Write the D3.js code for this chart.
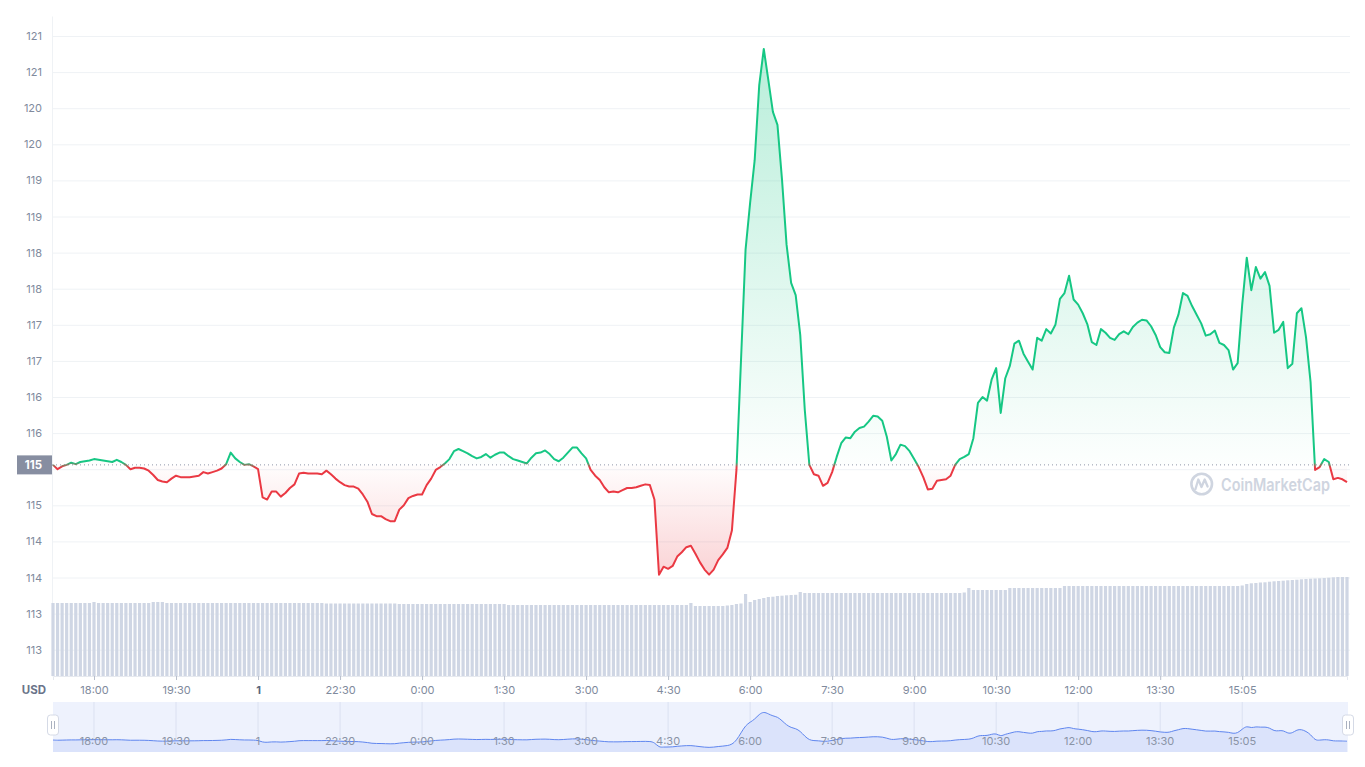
<!DOCTYPE html>
<html>
<head>
<meta charset="utf-8">
<script src="https://cdn.jsdelivr.net/npm/d3@7"></script>
<style>
  body { margin: 0; background: #fff; font-family: Inter, "Noto Sans", sans-serif; }
  svg { display: block; }
</style>
</head>
<body>
<div id="visContainer"></div>
<script>
// price every 5 minutes, starting 17:15
const startTime = new Date(2023, 0, 31, 17, 15);
const stepMinutes = 5;

const prices = [
  115.56,115.50,115.54,115.56,115.59,115.57,115.60,115.61,115.62,115.64,
  115.63,115.62,115.61,115.60,115.63,115.60,115.56,115.50,115.52,115.52,
  115.51,115.48,115.42,115.35,115.33,115.32,115.37,115.41,115.39,115.39,
  115.39,115.40,115.41,115.46,115.44,115.46,115.48,115.51,115.57,115.73,
  115.65,115.60,115.56,115.57,115.54,115.50,115.11,115.08,115.19,115.19,
  115.12,115.17,115.24,115.29,115.44,115.45,115.44,115.44,115.44,115.43,
  115.48,115.43,115.37,115.32,115.28,115.26,115.26,115.23,115.15,115.05,
  114.88,114.85,114.85,114.81,114.78,114.78,114.94,115.00,115.10,115.13,
  115.15,115.15,115.28,115.37,115.49,115.53,115.58,115.64,115.75,115.78,
  115.75,115.72,115.68,115.65,115.67,115.71,115.66,115.70,115.73,115.73,
  115.68,115.64,115.62,115.60,115.58,115.66,115.72,115.73,115.76,115.71,
  115.64,115.61,115.66,115.73,115.80,115.80,115.72,115.65,115.49,115.41,
  115.35,115.25,115.18,115.19,115.18,115.21,115.24,115.24,115.25,115.27,
  115.29,115.28,115.08,114.04,114.15,114.12,114.16,114.29,114.35,114.42,
  114.44,114.33,114.21,114.11,114.04,114.11,114.24,114.32,114.41,114.65,
  115.49,117.01,118.54,119.19,119.78,120.82,121.32,120.89,120.45,120.27,
  119.51,118.61,118.08,117.91,117.36,116.32,115.56,115.43,115.41,115.27,
  115.31,115.46,115.67,115.86,115.94,115.93,116.02,116.07,116.09,116.16,
  116.24,116.23,116.17,115.95,115.62,115.71,115.84,115.82,115.75,115.64,
  115.53,115.39,115.22,115.23,115.34,115.35,115.36,115.41,115.56,115.64,
  115.67,115.71,115.93,116.42,116.50,116.45,116.74,116.90,116.28,116.76,
  116.93,117.24,117.28,117.10,116.99,116.88,117.32,117.28,117.44,117.38,
  117.50,117.86,117.94,118.18,117.85,117.78,117.66,117.51,117.26,117.22,
  117.44,117.39,117.32,117.29,117.37,117.41,117.37,117.47,117.53,117.57,
  117.56,117.48,117.36,117.19,117.12,117.11,117.46,117.64,117.94,117.90,
  117.76,117.64,117.52,117.35,117.37,117.42,117.25,117.22,117.15,116.88,
  116.97,117.78,118.43,117.98,118.30,118.14,118.23,118.04,117.39,117.43,
  117.54,116.90,116.96,117.66,117.73,117.33,116.71,115.49,115.53,115.64,
  115.60,115.36,115.38,115.36,115.32
];

// volume bars (millions)
const volumes = [
  73,73,73,73,73,73,73,73,73,74,
  73,73,73,73,73,73,73,73,73,73,
  73,73,74,74,74,73,73,73,73,73,
  73,73,73,73,73,73,73,73,73,73,
  73,73,73,73,73,73,73,73,73,73,
  73,73,73,73,73,73,73,73,73,73,
  72.5,72.5,72.5,72.5,72.5,72.5,72.5,72.5,72.5,72.5,
  72.5,72.5,72.5,72.5,72.5,72.5,72,72,72,72,
  72,72,72,72,72,72,72,72,72,72,
  72,72,72,72,72,72,72,72,72,72,
  71,71,71,71,71,71,71,71,71,71,
  71,71,71,71,71,71,71,71,71,71,
  71,71,71,71,71,71,71,71,71,71,
  71,71,71,71,71,71,71,71,71,71,
  73,70,70,70,70,70,70,70,70.5,71,
  72,72.5,82,74,76,77,78,79,79.3,80,
  80.3,80.7,81,81.2,84,83,83,83,83,83,
  83,83,83,83,83,83,83,83,83,83,
  83,83,83,83,83,83,83,83,83,83,
  83,83,83,83,83,83,83,83,83,83,
  83.5,88,86,86,86,86,86,86,86,86,
  88,88,88,88,88,88,88,88,88,88,
  88,88,90,90,90,90,90,90,90,90,
  90,90,90,90,90,90,90,90,90,90,
  90,90,90,90,90,90,90,90,90,90,
  90,90,90,90,90,90,90,90,90,90,
  90,90.5,92,92.7,93,93.5,93.7,94.3,94.7,95,
  95.3,95.7,96,96.3,96.7,97,97.3,97.5,97.7,98,
  98.3,98.7,99,99,99
];

const xTickTimes = [
  "2023-01-31 18:00","2023-01-31 19:30","2023-01-31 21:00","2023-01-31 22:30",
  "2023-02-01 00:00","2023-02-01 01:30","2023-02-01 03:00","2023-02-01 04:30",
  "2023-02-01 06:00","2023-02-01 07:30","2023-02-01 09:00","2023-02-01 10:30",
  "2023-02-01 12:00","2023-02-01 13:30","2023-02-01 15:00"
];
const xTickLabels = ["18:00","19:30","1","22:30","0:00","1:30","3:00","4:30",
  "6:00","7:30","9:00","10:30","12:00","13:30","15:05"];

const yTickValues = [113,113.5,114,114.5,115,115.5,116,116.5,117,117.5,
  118,118.5,119,119.5,120,120.5,121,121.5];
const yTickLabels = ["113","113","114","114","115","115","116","116","117","117",
  "118","118","119","119","120","120","121","121"];

const green = "#16c784";
const red = "#ea3943";
const labelColor = "#808a9d";

const width = 1365;
const height = 767;
const plot = {left: 52, right: 1350, top: 16, bottom: 676};

const parseTime = d3.timeParse("%Y-%m-%d %H:%M");
const tickDates = xTickTimes.map(parseTime);

const data = prices.map((p, i) => ({
  time: new Date(startTime.getTime() + i * stepMinutes * 60000),
  price: p,
  volume: volumes[i]
}));
const basePrice = prices[0];

const svg = d3.select("#visContainer")
  .append("svg")
  .attr("width", width)
  .attr("height", height)
  .style("font-family", "Inter, 'Noto Sans', sans-serif");

const xScale = d3.scaleTime()
  .domain(d3.extent(data, d => d.time))
  .range([53, 1347]);

const yScale = d3.scaleLinear()
  .domain([112.636, 121.777])
  .range([plot.bottom, plot.top]);

const volScale = d3.scaleLinear()
  .domain([0, 100])
  .range([plot.bottom, plot.bottom - 100]);

// gradients
const defs = svg.append("defs");
const baseY = yScale(basePrice);
const baseOff = (baseY - plot.top) / (plot.bottom - plot.top);

const strokeGrad = defs.append("linearGradient")
  .attr("id", "strokeGrad")
  .attr("gradientUnits", "userSpaceOnUse")
  .attr("x1", 0).attr("x2", 0)
  .attr("y1", plot.top).attr("y2", plot.bottom);
strokeGrad.append("stop").attr("offset", 0).attr("stop-color", green);
strokeGrad.append("stop").attr("offset", baseOff - 0.004).attr("stop-color", green);
strokeGrad.append("stop").attr("offset", baseOff + 0.004).attr("stop-color", red);
strokeGrad.append("stop").attr("offset", 1).attr("stop-color", red);

const topY = yScale(d3.max(prices));
const botY = yScale(d3.min(prices));
const areaOff = (baseY - topY) / (botY - topY);
const areaGrad = defs.append("linearGradient")
  .attr("id", "areaGrad")
  .attr("gradientUnits", "userSpaceOnUse")
  .attr("x1", 0).attr("x2", 0)
  .attr("y1", topY).attr("y2", botY);
areaGrad.append("stop").attr("offset", 0).attr("stop-color", green).attr("stop-opacity", 0.3);
areaGrad.append("stop").attr("offset", areaOff).attr("stop-color", green).attr("stop-opacity", 0.01);
areaGrad.append("stop").attr("offset", areaOff).attr("stop-color", red).attr("stop-opacity", 0.01);
areaGrad.append("stop").attr("offset", 1).attr("stop-color", red).attr("stop-opacity", 0.22);

// grid lines
svg.append("g")
  .attr("transform", `translate(${plot.left},0)`)
  .call(d3.axisLeft(yScale).tickValues(yTickValues).tickSize(-(plot.right - plot.left)).tickFormat(""))
  .call(g => g.select(".domain").remove())
  .call(g => g.selectAll("line").attr("stroke", "#eff2f5"));

// y axis (the label under the base price tag is hidden, as in the original)
svg.append("g")
  .attr("transform", `translate(${plot.left},0)`)
  .call(d3.axisLeft(yScale)
    .tickValues(yTickValues)
    .tickFormat((d, i) => Math.abs(yScale(d) - baseY) < 12 ? "" : yTickLabels[i])
    .tickSize(0)
    .tickPadding(10))
  .call(g => g.select(".domain").attr("stroke", "#eff2f5"))
  .call(g => g.selectAll("text")
    .attr("fill", labelColor)
    .style("font-size", "11px")
    .style("font-family", "Inter, sans-serif"));

// volume bars
svg.append("g")
  .selectAll("rect")
  .data(data)
  .join("rect")
  .attr("x", d => xScale(d.time) - 1.6)
  .attr("width", 3.2)
  .attr("y", d => volScale(d.volume))
  .attr("height", d => plot.bottom - volScale(d.volume))
  .attr("fill", "#cfd6e4");

// x axis
svg.append("g")
  .attr("transform", `translate(0,${plot.bottom})`)
  .call(d3.axisBottom(xScale)
    .tickValues(tickDates)
    .tickFormat((d, i) => xTickLabels[i])
    .tickSize(4)
    .tickPadding(6))
  .call(g => g.select(".domain").attr("stroke", "#e6e9ef"))
  .call(g => g.selectAll("line").attr("stroke", "#b8bfcc"))
  .call(g => g.selectAll("text")
    .attr("fill", (d, i) => xTickLabels[i] === "1" ? "#58667e" : labelColor)
    .style("font-weight", (d, i) => xTickLabels[i] === "1" ? "700" : "400")
    .style("font-size", "11px")
    .style("font-family", "Inter, sans-serif"));

svg.append("text")
  .attr("x", 46)
  .attr("y", 694)
  .attr("text-anchor", "end")
  .attr("fill", "#6a7489")
  .style("font-size", "11.5px")
  .style("font-weight", "700")
  .text("USD");

// watermark
const wm = svg.append("g").attr("fill", "none").attr("stroke", "#cfd5e0");
wm.append("circle").attr("cx", 1201.7).attr("cy", 484).attr("r", 10.3).attr("stroke-width", 2.6);
wm.append("path")
  .attr("d", "M1195.5,489 L1198.3,479.5 L1201.5,487 L1204.7,479.5 L1207.6,486.5")
  .attr("stroke-width", 2.3)
  .attr("stroke-linejoin", "round")
  .attr("stroke-linecap", "round");
svg.append("text")
  .attr("x", 1221)
  .attr("y", 491)
  .attr("fill", "#cfd5e0")
  .attr("textLength", 109)
  .attr("lengthAdjust", "spacingAndGlyphs")
  .style("font-size", "17px")
  .style("font-weight", "600")
  .text("CoinMarketCap");

// area + line
const area = d3.area()
  .x(d => xScale(d.time))
  .y0(baseY)
  .y1(d => yScale(d.price));

svg.append("path")
  .datum(data)
  .attr("d", area)
  .attr("fill", "url(#areaGrad)");

// base price dotted line
svg.append("line")
  .attr("x1", plot.left).attr("x2", plot.right)
  .attr("y1", baseY).attr("y2", baseY)
  .attr("stroke", "#8f96a8")
  .attr("stroke-width", 1)
  .attr("stroke-dasharray", "1,3");

const line = d3.line()
  .x(d => xScale(d.time))
  .y(d => yScale(d.price));

svg.append("path")
  .datum(data)
  .attr("d", line)
  .attr("fill", "none")
  .attr("stroke", "url(#strokeGrad)")
  .attr("stroke-width", 2)
  .attr("stroke-linejoin", "round");

// base price tag
svg.append("rect")
  .attr("x", 17).attr("y", baseY - 9.5)
  .attr("width", 35).attr("height", 19)
  .attr("fill", "#878ea1");
svg.append("text")
  .attr("x", 42)
  .attr("y", baseY + 4)
  .attr("text-anchor", "end")
  .attr("fill", "#fff")
  .style("font-size", "11.5px")
  .style("font-weight", "700")
  .text(Math.floor(basePrice));

// navigator
const nav = {top: 702, bottom: 752, left: 53, right: 1348};
const navY = d3.scaleLinear().domain([113.12, 123.3]).range([nav.bottom, nav.top]);

svg.append("rect")
  .attr("x", nav.left).attr("y", nav.top)
  .attr("width", nav.right - nav.left).attr("height", nav.bottom - nav.top)
  .attr("fill", "#eef2fd");

svg.append("g")
  .selectAll("line")
  .data(tickDates)
  .join("line")
  .attr("x1", d => xScale(d)).attr("x2", d => xScale(d))
  .attr("y1", nav.top).attr("y2", nav.bottom)
  .attr("stroke", "#dbe1f1");

const navArea = d3.area()
  .curve(d3.curveBasis)
  .x(d => xScale(d.time))
  .y0(nav.bottom)
  .y1(d => navY(d.price));
const navLine = d3.line()
  .curve(d3.curveBasis)
  .x(d => xScale(d.time))
  .y(d => navY(d.price));

svg.append("path").datum(data).attr("d", navArea).attr("fill", "#dbe3fb");
svg.append("path").datum(data).attr("d", navLine)
  .attr("fill", "none").attr("stroke", "#5f86ef").attr("stroke-width", 1);

svg.append("g")
  .selectAll("text")
  .data(tickDates)
  .join("text")
  .attr("x", d => xScale(d))
  .attr("y", 744.5)
  .attr("text-anchor", "middle")
  .attr("fill", "#8a93a6")
  .style("font-size", "11px")
  .text((d, i) => xTickLabels[i]);

// navigator handles
[nav.left, nav.right].forEach(hx => {
  const h = svg.append("g").attr("transform", `translate(${hx},725)`);
  h.append("rect")
    .attr("x", -5.5).attr("y", -10)
    .attr("width", 11).attr("height", 20)
    .attr("rx", 3)
    .attr("fill", "#fff")
    .attr("stroke", "#d5dae6");
  h.append("line").attr("x1", -1.5).attr("x2", -1.5).attr("y1", -4).attr("y2", 4).attr("stroke", "#aab1c0");
  h.append("line").attr("x1", 1.5).attr("x2", 1.5).attr("y1", -4).attr("y2", 4).attr("stroke", "#aab1c0");
});
</script>
</body>
</html>
